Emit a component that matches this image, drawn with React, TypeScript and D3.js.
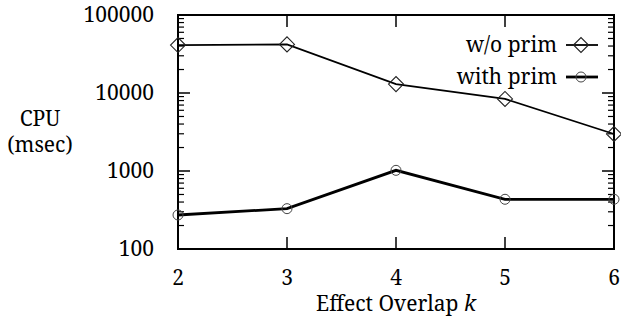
import React from "react";
import * as d3 from "d3";

// Effect overlap k values
const overlaps = [2, 3, 4, 5, 6];
// CPU time (msec)
const withoutPrim = [41200, 42000, 13000, 8400, 2980];
const withPrim = [273, 329, 1020, 434, 434];
const yTicks = [100, 1000, 10000, 100000];

const W = 621;
const H = 327;
const margin = { top: 15, right: 7, bottom: 78, left: 178 };
const txt = { fontFamily: "Noto Serif", fontSize: 21 };

const App = () => {
  const x = d3.scaleLinear().domain([2, 6]).range([margin.left, W - margin.right]);
  const y = d3.scaleLog().domain([100, 100000]).range([H - margin.bottom, margin.top]);

  const line = d3
    .line<number>()
    .x((_, i) => x(overlaps[i]))
    .y((d) => y(d));

  // minor ticks 2..9 for each decade
  const minor: number[] = [];
  yTicks.slice(0, -1).forEach((t) => {
    for (let m = 2; m <= 9; m++) minor.push(t * m);
  });

  const x0 = x.range()[0];
  const x1 = x.range()[1];
  const y0 = y.range()[0];
  const y1 = y.range()[1];

  const diamond = (cx: number, cy: number, r = 7.5) =>
    `M${cx - r},${cy}L${cx},${cy - r}L${cx + r},${cy}L${cx},${cy + r}Z`;

  return (
    <div style={{ position: "fixed", left: 0, top: 0 }}>
      <svg width={W} height={H} style={{ display: "block", background: "white" }}>
        {/* y ticks */}
        {yTicks.map((t) => (
          <g key={t}>
            <line x1={x0} x2={x0 + 12} y1={y(t)} y2={y(t)} stroke="black" strokeWidth={1.5} />
            <line x1={x1} x2={x1 - 12} y1={y(t)} y2={y(t)} stroke="black" strokeWidth={1.5} />
            <text x={154} y={y(t)} dy="0.35em" textAnchor="end" style={txt}>
              {t}
            </text>
          </g>
        ))}
        {minor.map((t) => (
          <g key={"m" + t}>
            <line x1={x0} x2={x0 + 6} y1={y(t)} y2={y(t)} stroke="black" strokeWidth={1.2} />
            <line x1={x1} x2={x1 - 6} y1={y(t)} y2={y(t)} stroke="black" strokeWidth={1.2} />
          </g>
        ))}
        {/* x ticks */}
        {overlaps.map((k) => (
          <g key={k}>
            <line x1={x(k)} x2={x(k)} y1={y0} y2={y0 - 12} stroke="black" strokeWidth={1.5} />
            <line x1={x(k)} x2={x(k)} y1={y1} y2={y1 + 12} stroke="black" strokeWidth={1.5} />
            <text x={x(k)} y={285} textAnchor="middle" style={txt}>
              {k}
            </text>
          </g>
        ))}
        <rect x={x0} y={y1} width={x1 - x0} height={y0 - y1} fill="none" stroke="black" strokeWidth={2} />

        {/* series */}
        <path d={line(withoutPrim) || ""} fill="none" stroke="black" strokeWidth={1.8} />
        {withoutPrim.map((v, i) => (
          <path key={"d" + i} d={diamond(x(overlaps[i]), y(v))} fill="none" stroke="#222" strokeWidth={1.1} />
        ))}
        <path d={line(withPrim) || ""} fill="none" stroke="black" strokeWidth={2.8} />
        {withPrim.map((v, i) => (
          <circle key={"c" + i} cx={x(overlaps[i])} cy={y(v)} r={5} fill="none" stroke="#444" strokeWidth={1} />
        ))}

        {/* legend */}
        <text x={557} y={45} dy="0.35em" textAnchor="end" style={txt}>
          w/o prim
        </text>
        <line x1={566} x2={598} y1={45} y2={45} stroke="black" strokeWidth={1.8} />
        <path d={diamond(581, 45)} fill="none" stroke="#222" strokeWidth={1.1} />
        <text x={557} y={77} dy="0.35em" textAnchor="end" style={txt}>
          with prim
        </text>
        <line x1={566} x2={598} y1={77} y2={77} stroke="black" strokeWidth={2.8} />
        <circle cx={581} cy={77} r={5} fill="none" stroke="#444" strokeWidth={1} />

        {/* axis titles */}
        <text x={40} y={126} textAnchor="middle" style={txt}>
          CPU
        </text>
        <text x={40} y={152} textAnchor="middle" style={txt}>
          (msec)
        </text>
        <text x={(x0 + x1) / 2} y={311} textAnchor="middle" style={txt}>
          Effect Overlap <tspan fontStyle="italic">k</tspan>
        </text>
      </svg>
    </div>
  );
};

export default App;
